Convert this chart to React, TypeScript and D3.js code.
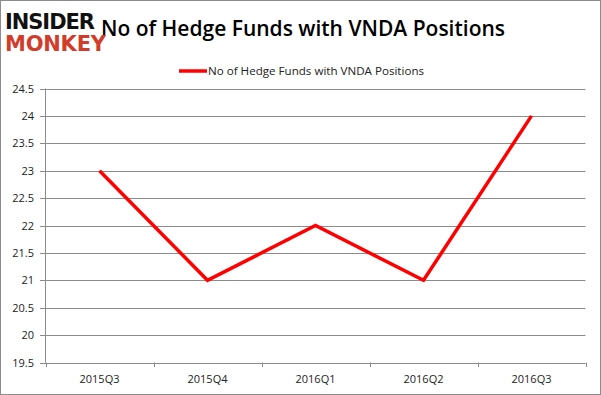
// @ts-nocheck
import * as d3 from "d3";
import { useRef, useEffect } from "react";

const quarters = ["2015Q3", "2015Q4", "2016Q1", "2016Q2", "2016Q3"];
const fundCounts = [23, 21, 22, 21, 24];
const yTicks = [19.5, 20, 20.5, 21, 21.5, 22, 22.5, 23, 23.5, 24, 24.5];
const seriesName = "No of Hedge Funds with VNDA Positions";

export default function App() {
  const ref = useRef();

  useEffect(() => {
    const width = 601;
    const height = 395;
    const font = "'Open Sans', 'DejaVu Sans', sans-serif";
    const svg = d3.select(ref.current);
    svg.selectAll("*").remove();

    svg
      .append("rect")
      .attr("x", 0.5)
      .attr("y", 0.5)
      .attr("width", width - 1)
      .attr("height", height - 1)
      .attr("fill", "white")
      .attr("stroke", "#8c8c8c");

    const x = d3.scaleBand().domain(quarters).range([45.5, 585.5]);
    const y = d3.scaleLinear().domain([19.5, 24.5]).range([362.5, 88.5]);

    // gridlines
    svg
      .append("g")
      .selectAll("line")
      .data(yTicks)
      .enter()
      .append("line")
      .attr("x1", 40)
      .attr("x2", 585.5)
      .attr("y1", (d) => Math.round(y(d)) + 0.5)
      .attr("y2", (d) => Math.round(y(d)) + 0.5)
      .attr("stroke", "#8c8c8c");

    // y axis
    svg
      .append("line")
      .attr("x1", 45.5)
      .attr("x2", 45.5)
      .attr("y1", y(24.5))
      .attr("y2", y(19.5))
      .attr("stroke", "#8c8c8c");

    svg
      .append("g")
      .selectAll("text")
      .data(yTicks)
      .enter()
      .append("text")
      .attr("x", 34)
      .attr("y", (d) => y(d) + 4)
      .attr("text-anchor", "end")
      .attr("font-family", font)
      .attr("font-size", 11)
      .attr("fill", "#222")
      .text((d) => d);

    // x axis ticks
    const edges = quarters.map((q) => x(q)).concat([x.range()[1]]);
    svg
      .append("g")
      .selectAll("line")
      .data(edges)
      .enter()
      .append("line")
      .attr("x1", (d) => Math.round(d) + 0.5)
      .attr("x2", (d) => Math.round(d) + 0.5)
      .attr("y1", 362.5)
      .attr("y2", 367)
      .attr("stroke", "#8c8c8c");

    svg
      .append("g")
      .selectAll("text")
      .data(quarters)
      .enter()
      .append("text")
      .attr("x", (d) => x(d) + x.bandwidth() / 2)
      .attr("y", 383)
      .attr("text-anchor", "middle")
      .attr("font-family", font)
      .attr("font-size", 11)
      .attr("fill", "#222")
      .text((d) => d);

    // line
    const line = d3
      .line()
      .x((d, i) => x(quarters[i]) + x.bandwidth() / 2)
      .y((d) => y(d));

    svg
      .append("path")
      .datum(fundCounts)
      .attr("d", line)
      .attr("fill", "none")
      .attr("stroke", "#ff0000")
      .attr("stroke-width", 3.5);

    // title
    svg
      .append("text")
      .attr("x", 303)
      .attr("y", 36)
      .attr("text-anchor", "middle")
      .attr("font-family", font)
      .attr("font-size", 21)
      .attr("font-weight", 600)
      .attr("fill", "#000")
      .text(seriesName);

    // legend
    svg
      .append("line")
      .attr("x1", 179)
      .attr("x2", 207)
      .attr("y1", 71)
      .attr("y2", 71)
      .attr("stroke", "#ff0000")
      .attr("stroke-width", 3.5);
    svg
      .append("text")
      .attr("x", 208)
      .attr("y", 75)
      .attr("font-family", font)
      .attr("font-size", 11.6)
      .attr("fill", "#222")
      .text(seriesName);

    // logo
    svg
      .append("text")
      .attr("x", 5)
      .attr("y", 29)
      .attr("font-family", "'DejaVu Sans', sans-serif")
      .attr("font-size", 21)
      .attr("font-weight", 900)
      .attr("textLength", 90)
      .attr("fill", "#111")
      .text("INSIDER");
    svg
      .append("text")
      .attr("x", 5)
      .attr("y", 51)
      .attr("font-family", "'DejaVu Sans', sans-serif")
      .attr("font-size", 21)
      .attr("font-weight", 900)
      .attr("textLength", 101)
      .attr("fill", "#d23c2a")
      .text("MONKEY");
  }, []);

  return (
    <svg
      ref={ref}
      width={601}
      height={395}
      style={{ position: "absolute", left: 0, top: 0, display: "block" }}
    ></svg>
  );
}
